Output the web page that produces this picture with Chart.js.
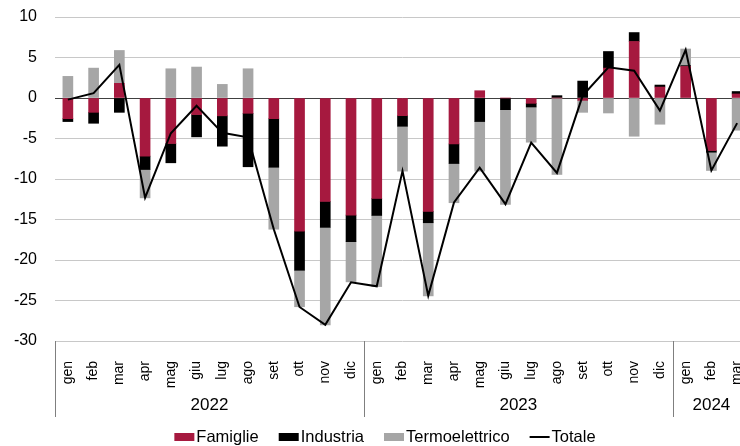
<!DOCTYPE html>
<html><head><meta charset="utf-8">
<script src="https://cdn.jsdelivr.net/npm/chart.js@4.4.1/dist/chart.umd.min.js"></script>
<style>
html,body{margin:0;padding:0;overflow:hidden;background:#fff;width:740px;height:446px}
#wrap{position:absolute;left:0;top:0;width:772px;height:446px}
</style>
</head><body><div id="wrap"><canvas id="c" width="772" height="446"></canvas></div>
<script>
const months = ['gen','feb','mar','apr','mag','giu','lug','ago','set','ott','nov','dic',
                'gen','feb','mar','apr','mag','giu','lug','ago','set','ott','nov','dic',
                'gen','feb','mar'];
const years = ['2022','2023','2024'];
const monthsPerYear = [12,12,3];
const yTicks = [10,5,0,-5,-10,-15,-20,-25,-30];

const famiglie = [-2.55,-1.77,1.81,-7.18,-5.62,-2.05,-2.2,-1.89,-2.55,-16.43,-12.77,-14.45,
                  -12.4,-2.18,-14.0,-5.67,0.9,0,-0.66,0,-0.29,3.69,6.98,1.35,
                  3.9,-6.49,0.5];
const industria = [-0.36,-1.35,-1.77,-1.65,-2.38,-2.75,-3.75,-6.6,-6.0,-4.84,-3.2,-3.29,
                   -2.1,-1.31,-1.4,-2.42,-2.91,-1.44,-0.45,0.29,2.09,2.05,1.1,0.25,
                   0.1,-0.2,0.3];
const termoelettrico = [2.67,3.69,4.06,-3.5,3.61,3.82,1.68,3.61,-7.65,-4.5,-12.03,-4.96,
                        -8.78,-5.54,-9.03,-4.84,-6.12,-11.7,-4.35,-9.44,-1.48,-1.85,-4.72,-3.24,
                        2.05,-2.26,-3.98];
const totale = [-0.2,0.6,4.1,-12.3,-4.35,-0.95,-4.3,-4.85,-16.2,-25.8,-28.0,-22.75,
                -23.25,-9.0,-24.4,-12.9,-8.6,-13.1,-5.5,-9.25,0.3,3.8,3.37,-1.55,
                5.95,-8.95,-3.1];

const FONT = "'Liberation Sans', Arial, sans-serif";
const C_FAM = '#A6193F', C_IND = '#000000', C_TER = '#A6A6A6', C_TOT = '#000000';

const legendItems = [
  {label:'Famiglie', color:C_FAM, kind:'box'},
  {label:'Industria', color:C_IND, kind:'box'},
  {label:'Termoelettrico', color:C_TER, kind:'box'},
  {label:'Totale', color:C_TOT, kind:'line'}
];

const groupPlugin = {
  id:'groups',
  afterDraw(chart){
    const {ctx, chartArea, scales:{x}} = chart;
    ctx.save();
    const half = (x.getPixelForTick(1) - x.getPixelForTick(0)) / 2;
    let idx = 0;
    ctx.font = "17px " + FONT;
    ctx.fillStyle = '#000';
    ctx.textAlign = 'center';
    ctx.textBaseline = 'middle';
    for (let g = 0; g < years.length; g++) {
      const first = idx, last = idx + monthsPerYear[g] - 1;
      const left = x.getPixelForTick(first) - half;
      const right = x.getPixelForTick(last) + half;
      ctx.strokeStyle = '#7f7f7f';
      ctx.lineWidth = 1;
      ctx.beginPath();
      ctx.moveTo(Math.round(left) + 0.5, chartArea.bottom);
      ctx.lineTo(Math.round(left) + 0.5, chartArea.bottom + 76);
      ctx.stroke();
      ctx.fillText(years[g], (left + right) / 2, 405);
      idx = last + 1;
    }
    // legend
    ctx.font = "16.5px " + FONT;
    ctx.textAlign = 'left';
    const boxW = 20, gapIn = 2, gapOut = 20;
    const widths = legendItems.map(it => boxW + gapIn + ctx.measureText(it.label).width);
    const total = widths.reduce((a,b)=>a+b,0) + gapOut*(legendItems.length-1);
    let lx = 385 - total/2;
    const ly = 437;
    legendItems.forEach((it,i)=>{
      if (it.kind === 'box') {
        ctx.fillStyle = it.color;
        ctx.fillRect(lx, ly-4, boxW, 8);
      } else {
        ctx.strokeStyle = it.color; ctx.lineWidth = 2;
        ctx.beginPath(); ctx.moveTo(lx, ly); ctx.lineTo(lx+boxW, ly); ctx.stroke();
      }
      ctx.fillStyle = '#000';
      ctx.fillText(it.label, lx + boxW + gapIn, ly);
      lx += widths[i] + gapOut;
    });
    ctx.restore();
  }
};

new Chart(document.getElementById('c'), {
  data: {
    labels: months,
    datasets: [
      {type:'line', label:'Totale', data: totale, borderColor:C_TOT, borderWidth:2, pointRadius:0, tension:0, fill:false, order:0},
      {type:'bar', label:'Famiglie', data: famiglie, backgroundColor:C_FAM, barThickness:10, order:1},
      {type:'bar', label:'Industria', data: industria, backgroundColor:C_IND, barThickness:10, order:1},
      {type:'bar', label:'Termoelettrico', data: termoelettrico, backgroundColor:C_TER, barThickness:10, order:1}
    ]
  },
  options: {
    responsive:false, animation:false, devicePixelRatio:1,
    layout:{padding:{top:17, right:22, left:0, bottom:0}},
    plugins:{legend:{display:false}, tooltip:{enabled:false}, title:{display:false}},
    scales:{
      x:{
        stacked:true,
        grid:{display:false}, border:{display:false},
        ticks:{minRotation:90, maxRotation:90, autoSkip:false, padding:12, color:'#000', font:{family:FONT, size:14}},
        afterFit(s){ s.height = 105; }
      },
      y:{
        stacked:true, min:yTicks[yTicks.length-1], max:yTicks[0],
        afterBuildTicks(s){ s.ticks = yTicks.map(v=>({value:v})); },
        ticks:{color:'#000', padding:18, font:{family:FONT, size:16}},
        grid:{color:c => (c.tick && c.tick.value === 0) ? '#404040' : '#c8c8c8', drawTicks:false, lineWidth:1},
        border:{display:false},
        afterFit(s){ s.width = 55; s.paddingTop = 0; s.paddingBottom = 0; }
      }
    }
  },
  plugins:[groupPlugin]
});
</script>
</body></html>
